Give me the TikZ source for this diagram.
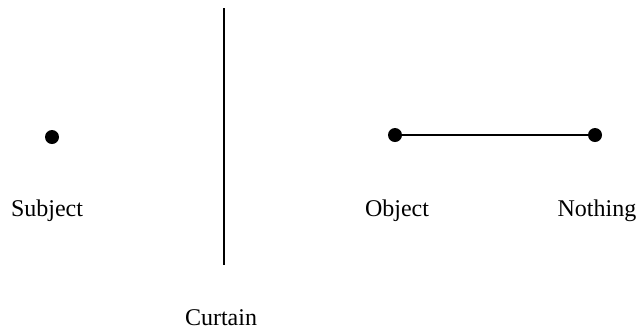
\documentclass[tikz,border=0pt]{standalone}
\usepackage{fontspec}
\setmainfont{Liberation Serif}
\begin{document}
\begin{tikzpicture}[x=0.5pt,y=-0.5pt,
  dot/.style={circle,fill=black,inner sep=0pt,minimum size=7pt},
  lbl/.style={font=\fontsize{12pt}{14pt}\selectfont,inner sep=0pt},
  conn/.style={line width=1pt}]
\useasboundingbox (0,0) rectangle (643,329);
\node[dot] (subj) at (52,137) {};
\node[dot] (obj) at (395,135) {};
\node[dot] (noth) at (595,135) {};
\draw[conn] (obj) -- (noth);
\coordinate (ctop) at (224,8);
\coordinate (cbot) at (224,265);
\draw[conn] (ctop) -- (cbot);
\node[lbl] (lsubj) at (47,211) {Subject};
\node[lbl] (lobj) at (397,211) {Object};
\node[lbl] (lnoth) at (597,211) {Nothing};
\node[lbl] (lcurt) at (221,318) {Curtain};
\end{tikzpicture}
\end{document}
